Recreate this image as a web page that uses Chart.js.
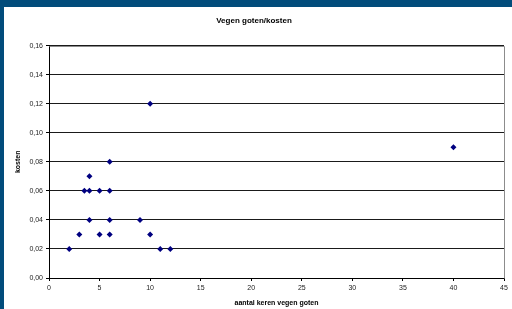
<!DOCTYPE html>
<html>
<head>
<meta charset="utf-8">
<script src="https://cdn.jsdelivr.net/npm/chart.js@4/dist/chart.umd.min.js"></script>
<style>
  html, body { margin: 0; padding: 0; background: #fff; }
  #frame {
    width: 508px; height: 302px;
    border-top: 7px solid #024c7b;
    border-left: 4px solid #024c7b;
    background: #fff;
  }
  #scatterChart { display: block; }
</style>
</head>
<body>
<div id="frame">
  <canvas id="scatterChart" width="508" height="302"></canvas>
</div>
<script>
// aantal keren vegen goten
const aantalKeren = [2, 3, 3.5, 4, 4, 4, 5, 5, 6, 6, 6, 6, 9, 10, 10, 11, 12, 40];
// kosten
const kosten = [0.02, 0.03, 0.06, 0.06, 0.07, 0.04, 0.06, 0.03, 0.08, 0.06, 0.04, 0.03, 0.04, 0.12, 0.03, 0.02, 0.02, 0.09];

const xTicks = [0, 5, 10, 15, 20, 25, 30, 35, 40, 45];
const yTicks = [0, 0.02, 0.04, 0.06, 0.08, 0.10, 0.12, 0.14, 0.16];

const points = aantalKeren.map((x, i) => ({ x: x, y: kosten[i] }));

const fontFam = '"Liberation Sans", Arial, sans-serif';

// grey top/right border of the plot area
const plotBorder = {
  id: 'plotBorder',
  beforeDatasetsDraw(chart) {
    const a = chart.chartArea;
    const c = chart.ctx;
    c.save();
    c.strokeStyle = '#8c8c8c';
    c.lineWidth = 1;
    c.beginPath();
    c.moveTo(Math.round(a.left) + 0.5, Math.round(a.top) + 0.5);
    c.lineTo(Math.round(a.right) + 0.5, Math.round(a.top) + 0.5);
    c.lineTo(Math.round(a.right) + 0.5, Math.round(a.bottom) + 0.5);
    c.stroke();
    c.restore();
  }
};

const ctx = document.getElementById('scatterChart').getContext('2d');

new Chart(ctx, {
  type: 'scatter',
  data: {
    datasets: [{
      label: 'kosten',
      data: points,
      pointStyle: 'rectRot',
      pointRadius: 3,
      backgroundColor: '#000080',
      borderColor: '#000080',
      borderWidth: 0
    }]
  },
  options: {
    responsive: false,
    animation: false,
    layout: { padding: { left: 0, right: 8, top: 0, bottom: 0 } },
    plugins: {
      legend: { display: false },
      tooltip: { enabled: false },
      title: {
        display: true,
        text: 'Vegen goten/kosten',
        color: '#000',
        font: { family: fontFam, size: 8, weight: 'bold' },
        padding: { top: 9, bottom: 20 }
      }
    },
    scales: {
      x: {
        type: 'linear',
        min: 0,
        max: 45,
        afterBuildTicks: s => { s.ticks = xTicks.map(v => ({ value: v })); },
        afterFit: s => { s.height = 31; },
        ticks: {
          color: '#222',
          font: { family: fontFam, size: 7 },
          padding: 3,
          maxRotation: 0
        },
        grid: {
          drawOnChartArea: false,
          drawTicks: true,
          tickLength: 3,
          tickColor: '#000'
        },
        border: { display: true, color: '#000', width: 1 },
        title: {
          display: true,
          text: 'aantal keren vegen goten',
          color: '#000',
          font: { family: fontFam, size: 7, weight: 'bold' },
          padding: { top: 0, bottom: 2 }
        }
      },
      y: {
        type: 'linear',
        min: 0,
        max: 0.16,
        afterBuildTicks: s => { s.ticks = yTicks.map(v => ({ value: v })); },
        afterFit: s => { s.width = 45; },
        ticks: {
          color: '#222',
          font: { family: fontFam, size: 7 },
          padding: 3,
          callback: v => v.toFixed(2).replace('.', ',')
        },
        grid: {
          color: '#1a1a1a',
          lineWidth: 1,
          drawTicks: true,
          tickLength: 3,
          tickColor: '#000'
        },
        border: { display: true, color: '#000', width: 1 },
        title: {
          display: true,
          text: 'kosten',
          color: '#000',
          font: { family: fontFam, size: 7, weight: 'bold' },
          padding: { top: 10, bottom: 0 }
        }
      }
    }
  },
  plugins: [plotBorder]
});
</script>
</body>
</html>
